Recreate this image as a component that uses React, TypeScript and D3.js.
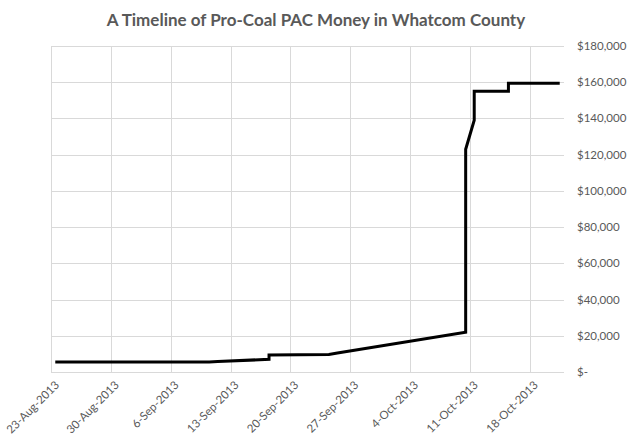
import { useEffect, useRef } from "react";
import * as d3 from "d3";

// cumulative contributions, one entry per report (some dates repeat)
const dates = [
  "2013-08-23",
  "2013-09-10",
  "2013-09-11",
  "2013-09-17",
  "2013-09-17",
  "2013-09-24",
  "2013-09-25",
  "2013-10-10",
  "2013-10-10",
  "2013-10-11",
  "2013-10-11",
  "2013-10-15",
  "2013-10-15",
  "2013-10-21",
];
const totals = [
  5500, 5500, 5800, 7000, 9400, 9700, 10500, 22000, 123000, 139000, 155000,
  155000, 159400, 159400,
];
const tickDates = [
  "2013-08-23",
  "2013-08-30",
  "2013-09-06",
  "2013-09-13",
  "2013-09-20",
  "2013-09-27",
  "2013-10-04",
  "2013-10-11",
  "2013-10-18",
];
const yTicks = [0, 20000, 40000, 60000, 80000, 100000, 120000, 140000, 160000, 180000];

const title = "A Timeline of Pro-Coal PAC Money in Whatcom County";

const parse = d3.timeParse("%Y-%m-%d");
const fmtTick = d3.timeFormat("%-d-%b-%Y");
const fmtMoney = (v: number) => (v === 0 ? "$-" : "$" + d3.format(",")(v));

export default function App() {
  const ref = useRef<SVGSVGElement | null>(null);

  useEffect(() => {
    if (!ref.current) return;
    const svg = d3.select(ref.current);
    svg.selectAll("*").remove();

    const width = 630;
    const height = 440;
    const margin = { top: 46, right: 66, bottom: 68, left: 51 };
    const font = "Lato, 'Open Sans', sans-serif";
    const grey = "#595959";
    const grid = "#d9d9d9";

    const points = dates.map((d, i) => ({ date: parse(d) as Date, value: totals[i] }));

    const x = d3
      .scaleTime()
      .domain([parse("2013-08-23") as Date, parse("2013-10-22") as Date])
      .range([margin.left, width - margin.right]);

    const y = d3
      .scaleLinear()
      .domain([0, 180000])
      .range([height - margin.bottom, margin.top]);

    // excel date axis "between tick marks": points sit mid-day
    const xMid = (d: Date) => x(d3.timeHour.offset(d, 12));

    svg.append("rect").attr("width", width).attr("height", height).attr("fill", "#fff");

    // MARK: grid
    svg
      .append("g")
      .selectAll("line")
      .data(yTicks)
      .join("line")
      .attr("x1", margin.left)
      .attr("x2", width - margin.right)
      .attr("y1", (d) => Math.round(y(d)) + 0.5)
      .attr("y2", (d) => Math.round(y(d)) + 0.5)
      .attr("stroke", grid)
      .attr("stroke-width", 1);

    svg
      .append("g")
      .selectAll("line")
      .data(tickDates.map((d) => parse(d) as Date))
      .join("line")
      .attr("x1", (d) => Math.round(x(d)) + 0.5)
      .attr("x2", (d) => Math.round(x(d)) + 0.5)
      .attr("y1", y(180000))
      .attr("y2", y(0))
      .attr("stroke", grid)
      .attr("stroke-width", 1);

    // MARK: right axis labels
    svg
      .append("g")
      .selectAll("text")
      .data(yTicks)
      .join("text")
      .attr("x", width - margin.right + 13)
      .attr("y", (d) => y(d))
      .attr("dy", "0.35em")
      .attr("font-family", font)
      .attr("font-size", 11.5)
      .attr("fill", grey)
      .text((d) => fmtMoney(d));

    // MARK: bottom axis labels
    svg
      .append("g")
      .selectAll("text")
      .data(tickDates.map((d) => parse(d) as Date))
      .join("text")
      .attr("transform", (d) => `translate(${x(d) + 6},${y(0) + 11}) rotate(-45)`)
      .attr("text-anchor", "end")
      .attr("dy", "0.35em")
      .attr("font-family", font)
      .attr("font-size", 11.5)
      .attr("fill", grey)
      .text((d) => fmtTick(d));

    // MARK: line
    const line = d3
      .line<{ date: Date; value: number }>()
      .x((d) => xMid(d.date))
      .y((d) => y(d.value));

    svg
      .append("path")
      .attr("fill", "none")
      .attr("stroke", "#000")
      .attr("stroke-width", 3)
      .attr("stroke-linejoin", "miter")
      .attr("d", line(points) || "");

    // MARK: title
    svg
      .append("text")
      .attr("x", 316)
      .attr("y", 26)
      .attr("text-anchor", "middle")
      .attr("font-family", font)
      .attr("font-weight", "bold")
      .attr("font-size", 17)
      .attr("fill", grey)
      .text(title);
  }, []);

  return (
    <svg
      ref={ref}
      width={630}
      height={440}
      style={{ position: "absolute", left: 0, top: 0 }}
    />
  );
}
